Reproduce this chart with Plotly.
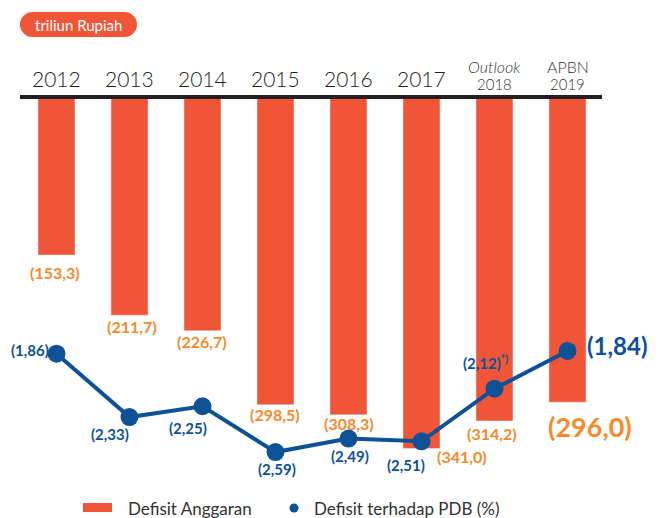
import math
import plotly.graph_objects as go

# ---- data ----
years = ["2012", "2013", "2014", "2015", "2016", "2017", "2018", "2019"]
year_top = ["", "", "", "", "", "", "<i>Outlook</i>", "APBN"]
deficit = [153.3, 211.7, 226.7, 298.5, 308.3, 341.0, 314.2, 296.0]
deficit_labels = ["(153,3)", "(211,7)", "(226,7)", "(298,5)", "(308,3)", "(341,0)", "(314,2)", "(296,0)"]
pdb = [1.86, 2.33, 2.25, 2.59, 2.49, 2.51, 2.12, 1.84]
pdb_labels = ["(1,86)", "(2,33)", "(2,25)", "(2,59)", "(2,49)", "(2,51)", "(2,12)<sup>*)</sup>", "(1,84)"]

# ---- styles / positions ----
OFF = 8                      # page body margin
W, H = 658 - OFF, 518 - OFF
L, T = 20 - OFF, 97 - OFF
PLOT_R, PLOT_B = 604 - OFF, 470 - OFF
R, B = W - PLOT_R, H - PLOT_B
PW, PH = PLOT_R - L, PLOT_B - T
BAR = "#F05537"
ORANGE = "#F58A2B"
BLUE = "#0D5197"
DARK = "#231F20"
FONT = "Lato"

def px(x):
    return (x - OFF - L) / PW

def py(y):
    return (PLOT_B - (y - OFF)) / PH

xpos = list(range(len(years)))

bar_lbl_dx = [-2, 2, -1, -1, 0, 40, -3, 22]
bar_lbl_dy = [17, 11, 11, 10, 9, 8, 13, 24]
bar_lbl_size = [16, 16, 16, 16, 16, 16, 16, 27]
pdb_lbl_dx = [-27, -20, -15, 1, 1, -16, -9, 50]
pdb_lbl_dy = [-4, 17, 22, 17, 17, 24, -26, -5]
pdb_lbl_size = [15, 15, 15, 15, 15, 15, 15, 24]

fig = go.Figure()
fig.add_trace(go.Bar(x=xpos, y=deficit, marker_color=BAR, width=0.507,
                     name="Defisit Anggaran", showlegend=False, hoverinfo="skip"))
fig.add_trace(go.Scatter(x=xpos, y=pdb, yaxis="y2", mode="lines+markers",
                         line=dict(color=BLUE, width=4),
                         marker=dict(color=BLUE, size=18),
                         name="Defisit terhadap PDB (%)", showlegend=False, hoverinfo="skip"))

ann = []
for i, y in enumerate(years):
    if year_top[i]:
        ann.append(dict(x=xpos[i], xref="x", y=py(67), yref="paper", text=year_top[i],
                        xanchor="center", yanchor="middle",
                        showarrow=False, font=dict(family=FONT, size=16, color="#333333", weight=300)))
        ann.append(dict(x=xpos[i], xref="x", y=py(84), yref="paper", text=y,
                        xanchor="center", yanchor="middle",
                        showarrow=False, font=dict(family=FONT, size=15, color="#333333", weight=300)))
    else:
        ann.append(dict(x=xpos[i], xref="x", y=py(79), yref="paper", text=y,
                        xanchor="center", yanchor="middle",
                        showarrow=False, font=dict(family=FONT, size=21, color=DARK, weight=300)))
    ann.append(dict(x=xpos[i], xref="x", y=deficit[i], yref="y", text="<b>" + deficit_labels[i] + "</b>",
                    xanchor="center", yanchor="middle",
                    showarrow=False, xshift=bar_lbl_dx[i], yshift=-bar_lbl_dy[i],
                    font=dict(family=FONT, size=bar_lbl_size[i], color=ORANGE)))
    ann.append(dict(x=xpos[i], xref="x", y=pdb[i], yref="y2", text="<b>" + pdb_labels[i] + "</b>",
                    xanchor="center", yanchor="middle",
                    showarrow=False, xshift=pdb_lbl_dx[i], yshift=-pdb_lbl_dy[i],
                    font=dict(family=FONT, size=pdb_lbl_size[i], color=BLUE)))

# pill label
ann.append(dict(x=px(78.5), y=py(24.5), xref="paper", yref="paper", text="triliun Rupiah",
                xanchor="center", yanchor="middle",
                showarrow=False, font=dict(family=FONT, size=15, color="white")))
# legend texts
ann.append(dict(x=px(126), y=py(508), xref="paper", yref="paper", text="Defisit Anggaran",
                xanchor="left", yanchor="middle", showarrow=False,
                font=dict(family=FONT, size=17, color="#333333")))
ann.append(dict(x=px(312), y=py(508), xref="paper", yref="paper", text="Defisit terhadap PDB (%)",
                xanchor="left", yanchor="middle", showarrow=False,
                font=dict(family=FONT, size=17, color="#333333")))

# rounded pill path
x0, x1, y0, y1 = 20, 137, 12, 37
r = (y1 - y0) / 2
pts = []
for k in range(0, 21):
    a = -math.pi / 2 + math.pi * k / 20
    pts.append((x1 - r + r * math.cos(a), (y0 + y1) / 2 + r * math.sin(a)))
for k in range(0, 21):
    a = math.pi / 2 + math.pi * k / 20
    pts.append((x0 + r + r * math.cos(a), (y0 + y1) / 2 + r * math.sin(a)))
path = "M " + " L ".join(f"{px(a):.5f},{py(b):.5f}" for a, b in pts) + " Z"

shapes = [
    dict(type="path", path=path, xref="paper", yref="paper", fillcolor=BAR, line=dict(width=0), layer="below"),
    dict(type="line", xref="paper", yref="paper", x0=px(20), x1=px(602), y0=py(97), y1=py(97),
         line=dict(color=DARK, width=4)),
    dict(type="rect", xref="paper", yref="paper", x0=px(83), x1=px(112), y0=py(503), y1=py(512),
         fillcolor=BAR, line=dict(width=0)),
    dict(type="circle", xref="paper", yref="paper", x0=px(289.5), x1=px(298.5), y0=py(503.5), y1=py(512.5),
         fillcolor=BLUE, line=dict(width=0)),
]

fig.update_layout(
    width=W, height=H, margin=dict(l=L, r=R, t=T, b=B),
    paper_bgcolor="white", plot_bgcolor="white",
    xaxis=dict(range=[-0.5, 7.5], visible=False),
    yaxis=dict(range=[361.8, 0], visible=False),
    yaxis2=dict(range=[2.723, -0.044], visible=False, overlaying="y"),
    annotations=ann, shapes=shapes, showlegend=False,
)
fig.write_html("out.html")
